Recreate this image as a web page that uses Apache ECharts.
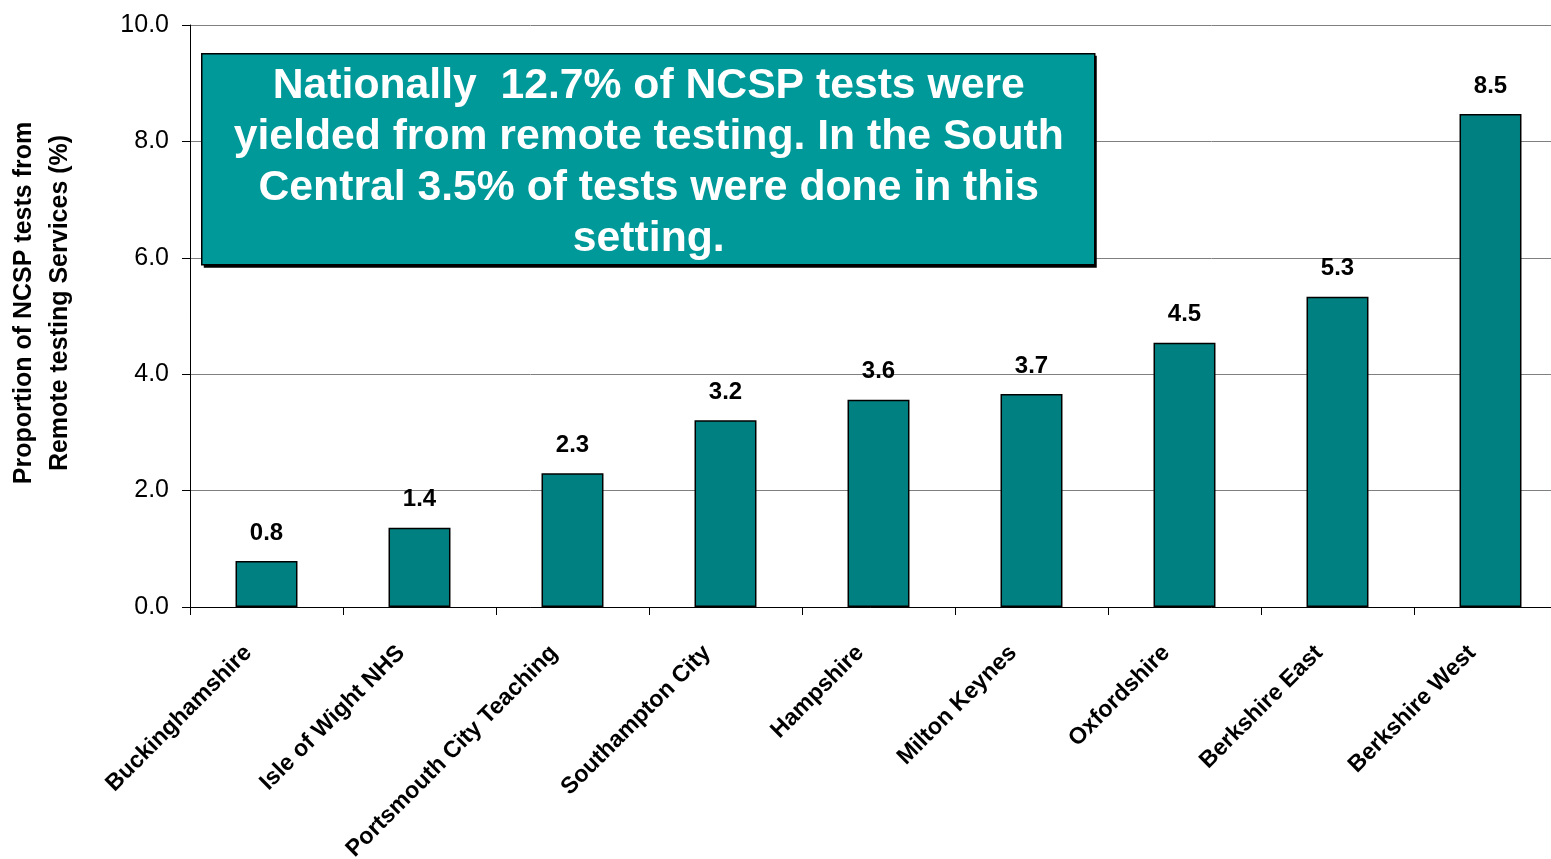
<!DOCTYPE html>
<html><head><meta charset="utf-8">
<script src="https://cdn.jsdelivr.net/npm/echarts@6/dist/echarts.min.js"></script>
<style>html,body{margin:0;padding:0;background:#fff}#c{width:1551px;height:859px}</style>
</head><body><div id="c"></div>
<script>
const categories = ['Buckinghamshire','Isle of Wight NHS','Portsmouth City Teaching','Southampton City','Hampshire','Milton Keynes','Oxfordshire','Berkshire East','Berkshire West'];
const values = [0.79, 1.36, 2.30, 3.21, 3.56, 3.66, 4.54, 5.33, 8.47];
const yTitle = 'Proportion of NCSP tests from\nRemote testing Services (%)';
const note = 'Nationally  12.7% of NCSP tests were\nyielded from remote testing. In the South\nCentral 3.5% of tests were done in this\nsetting.';

const chart = echarts.init(document.getElementById('c'));
const F = 'Liberation Sans, Arial, sans-serif';
chart.setOption({
  animation: false,
  grid: { left: 190, width: 1377, top: 25, bottom: 252, containLabel: false, outerBoundsMode: 'none' },
  xAxis: {
    type: 'category', data: categories,
    axisLine: { lineStyle: { color: '#000', width: 1 } },
    axisTick: { show: true, alignWithLabel: false, length: 8, lineStyle: { color: '#000' } },
    axisLabel: { rotate: 45, interval: 0, fontFamily: F, fontWeight: 'bold', fontSize: 23.3, color: '#000', margin: 24, padding: [0, 26, 0, 0] }
  },
  yAxis: {
    type: 'value', min: 0, max: 10, interval: 2,
    name: yTitle, nameLocation: 'middle', nameGap: 112, nameRotate: 90,
    nameTextStyle: { fontFamily: F, fontWeight: 'bold', fontSize: 25, color: '#000', lineHeight: 36, padding: [0, 0, 0, 26] },
    axisLine: { show: true, lineStyle: { color: '#000' } },
    axisTick: { show: true, length: 8, lineStyle: { color: '#000' } },
    axisLabel: { formatter: v => v.toFixed(1), fontFamily: F, fontSize: 25, color: '#000', margin: 21 },
    splitLine: { lineStyle: { color: '#808080', width: 1 } }
  },
  series: [{
    type: 'bar', data: values, barWidth: '40.5%',
    itemStyle: { color: '#008080', borderColor: '#000', borderWidth: 1.5 },
    label: { show: true, position: 'top', distance: 16, formatter: p => p.value.toFixed(1),
      fontFamily: F, fontWeight: 'bold', fontSize: 24, color: '#000' }
  }],
  graphic: [{
    type: 'group', left: 201, top: 53, z: 100, children: [
      { type: 'rect', z: 100, shape: { x: 2, y: 2, width: 893, height: 212 }, style: { fill: '#000' } },
      { type: 'rect', z: 101, shape: { x: 0, y: 0, width: 893, height: 211 }, style: { fill: '#009999', stroke: '#000', lineWidth: 1.5 } },
      { type: 'text', z: 102, x: 447, y: 109, style: { text: note, fill: '#fff', font: 'bold 42.7px Liberation Sans, Arial, sans-serif', align: 'center', verticalAlign: 'middle', lineHeight: 51 } }
    ]
  }]
});
</script></body></html>
